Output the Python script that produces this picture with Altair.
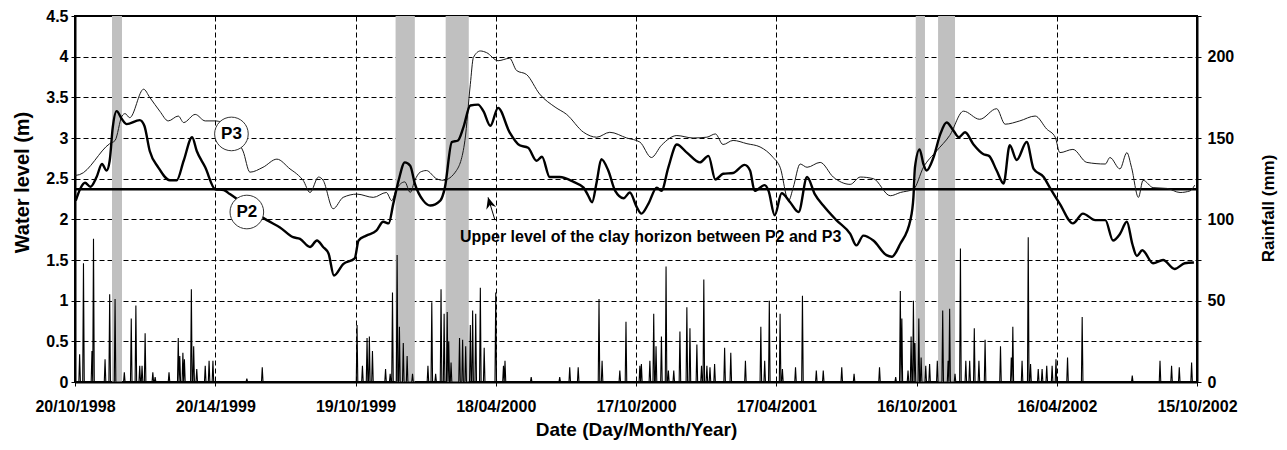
import altair as alt
import pandas as pd

# ---------------- data ----------------
# x positions are days counted from 20/10/1998
x_tick_days = [0, 182, 364, 546, 728, 910, 1092, 1274, 1456]
x_tick_labels = ["20/10/1998", "20/14/1999", "19/10/1999", "18/04/2000", "17/10/2000",
                 "17/04/2001", "16/10/2001", "16/04/2002", "15/10/2002"]
y_left_ticks = [0, 0.5, 1, 1.5, 2, 2.5, 3, 3.5, 4, 4.5]
y_right_ticks = [0, 25, 50, 75, 100, 125, 150, 175, 200, 225]

band_start = [48, 416, 481, 1091, 1120]
band_end = [61, 441, 511, 1103, 1142]

clay_level = [2.37]

p3_day = [0, 6, 45, 52, 61, 65, 71, 89, 97, 110,
          121, 134, 141, 156, 169, 182, 218, 227, 244, 262,
          279, 290, 296, 305, 316, 322, 335, 348, 366, 387,
          404, 411, 417, 428, 435, 441, 448, 456, 469, 478,
          495, 506, 513, 517, 526, 534, 549, 564, 573, 586,
          603, 623, 638, 660, 677, 694, 716, 733, 748, 761,
          781, 802, 820, 831, 841, 854, 872, 889, 906, 915,
          926, 932, 941, 950, 967, 984, 1006, 1019, 1036, 1058,
          1071, 1088, 1101, 1118, 1135, 1153, 1174, 1196, 1207, 1226,
          1246, 1261, 1272, 1278, 1295, 1313, 1337, 1343, 1356, 1365,
          1371, 1380, 1386, 1399, 1417, 1434, 1447, 1453]
p3_level = [2.54, 2.55, 2.93, 2.97, 3.27, 3.30, 3.25, 3.60, 3.50, 3.33,
            3.21, 3.27, 3.19, 3.29, 3.21, 3.21, 2.84, 2.58, 2.64, 2.74,
            2.62, 2.54, 2.48, 2.33, 2.52, 2.48, 2.13, 2.27, 2.31, 2.27,
            2.33, 2.23, 2.37, 2.46, 2.33, 2.48, 2.58, 2.60, 2.50, 2.48,
            2.60, 2.97, 3.66, 3.99, 4.07, 4.05, 3.95, 3.98, 3.83, 3.78,
            3.54, 3.38, 3.29, 3.07, 3.01, 3.07, 3.00, 2.95, 2.76, 2.91,
            3.03, 3.00, 3.01, 3.05, 2.92, 2.97, 2.93, 2.89, 2.76, 2.64,
            2.23, 2.39, 2.68, 2.64, 2.70, 2.52, 2.43, 2.52, 2.50, 2.29,
            2.33, 2.37, 2.64, 2.84, 3.03, 3.33, 3.23, 3.36, 3.17, 3.21,
            3.27, 3.11, 3.01, 2.82, 2.86, 2.70, 2.68, 2.76, 2.62, 2.82,
            2.64, 2.27, 2.48, 2.39, 2.38, 2.33, 2.35, 2.42]

p2_day = [1, 7, 13, 20, 28, 35, 41, 45, 49, 54,
          61, 67, 84, 90, 97, 108, 123, 132, 141, 152,
          158, 169, 182, 193, 201, 249, 266, 283, 292, 305,
          314, 322, 329, 336, 348, 363, 368, 378, 391, 400,
          407, 413, 420, 428, 435, 441, 452, 461, 474, 480,
          489, 497, 504, 513, 523, 530, 539, 549, 564, 577,
          588, 599, 606, 616, 629, 647, 660, 666, 671, 677,
          683, 692, 701, 712, 720, 729, 735, 744, 755, 761,
          770, 781, 794, 811, 822, 831, 841, 854, 869, 876,
          882, 895, 900, 908, 917, 928, 939, 950, 960, 971,
          988, 1006, 1014, 1023, 1036, 1053, 1060, 1071, 1084, 1088,
          1090, 1096, 1101, 1105, 1114, 1123, 1131, 1140, 1147, 1155,
          1166, 1179, 1186, 1196, 1205, 1213, 1222, 1235, 1244, 1257,
          1265, 1278, 1295, 1308, 1324, 1337, 1347, 1356, 1365, 1372,
          1378, 1385, 1399, 1412, 1427, 1440, 1452]
p2_level = [2.23, 2.38, 2.45, 2.40, 2.52, 2.68, 2.60, 2.72, 3.13, 3.33,
            3.23, 3.17, 3.22, 3.15, 2.84, 2.64, 2.48, 2.48, 2.72, 3.01,
            2.84, 2.64, 2.37, 2.36, 2.31, 1.99, 1.90, 1.78, 1.76, 1.66,
            1.74, 1.66, 1.58, 1.31, 1.45, 1.52, 1.74, 1.80, 1.86, 1.97,
            1.95, 2.19, 2.48, 2.70, 2.66, 2.44, 2.23, 2.17, 2.23, 2.39,
            2.95, 2.97, 3.13, 3.40, 3.41, 3.33, 3.15, 3.37, 3.07, 2.91,
            2.88, 2.72, 2.77, 2.52, 2.52, 2.46, 2.39, 2.29, 2.21, 2.46,
            2.74, 2.60, 2.35, 2.26, 2.33, 2.15, 2.07, 2.19, 2.39, 2.35,
            2.64, 2.92, 2.82, 2.70, 2.78, 2.49, 2.56, 2.57, 2.67, 2.60,
            2.35, 2.42, 2.35, 2.05, 2.32, 2.21, 2.09, 2.52, 2.31, 2.17,
            1.99, 1.82, 1.68, 1.80, 1.74, 1.56, 1.54, 1.70, 1.99, 2.27,
            2.64, 2.86, 2.68, 2.60, 2.76, 3.05, 3.19, 3.09, 3.01, 3.07,
            2.92, 2.80, 2.78, 2.60, 2.44, 2.91, 2.73, 2.95, 2.62, 2.52,
            2.39, 2.19, 1.95, 2.07, 1.99, 1.99, 1.74, 1.82, 1.97, 1.70,
            1.55, 1.62, 1.46, 1.50, 1.39, 1.46, 1.47]

rain_day = [6, 11, 22, 24, 39, 45, 52, 64, 73, 79,
            84, 87, 91, 101, 104, 122, 134, 136, 140, 142,
            151, 154, 158, 169, 174, 179, 223, 243, 366, 373,
            379, 382, 386, 403, 409, 412, 418, 421, 426, 431,
            438, 458, 463, 468, 475, 479, 483, 485, 488, 499,
            503, 507, 513, 516, 520, 526, 531, 546, 556, 558,
            592, 629, 642, 653, 680, 684, 707, 715, 733, 735,
            746, 751, 754, 761, 767, 770, 777, 785, 794, 798,
            807, 813, 816, 820, 824, 830, 843, 851, 870, 890,
            895, 901, 915, 918, 935, 944, 962, 971, 995, 1011,
            1044, 1065, 1071, 1073, 1081, 1085, 1088, 1090, 1095, 1098,
            1104, 1109, 1119, 1126, 1133, 1135, 1142, 1149, 1156, 1161,
            1167, 1173, 1181, 1201, 1215, 1217, 1229, 1237, 1240, 1250,
            1255, 1261, 1268, 1273, 1288, 1307, 1372, 1408, 1423, 1433,
            1449]
rain_mm = [17, 73, 19, 88, 14, 54, 51, 6, 39, 47,
           10, 10, 30, 6, 3, 6, 27, 16, 18, 14,
           57, 22, 8, 10, 13, 13, 2, 9, 35, 10,
           27, 28, 19, 8, 5, 55, 78, 34, 24, 16,
           5, 10, 49, 5, 57, 42, 43, 25, 12, 27,
           26, 22, 35, 44, 42, 58, 21, 55, 10, 13,
           3, 3, 9, 9, 51, 13, 7, 37, 10, 11,
           13, 42, 22, 28, 71, 7, 7, 31, 46, 33,
           23, 10, 63, 10, 9, 11, 21, 18, 13, 34,
           13, 50, 42, 8, 9, 53, 7, 7, 9, 5,
           9, 3, 56, 39, 7, 28, 50, 24, 39, 15,
           10, 11, 13, 44, 13, 45, 5, 82, 13, 13,
           33, 13, 26, 22, 15, 34, 13, 89, 11, 8,
           8, 10, 10, 14, 15, 40, 4, 13, 10, 9,
           12]

label_text = ["P3", "P2"]
label_day = [203, 223]
label_level = [3.05, 2.09]

note_text = ["Upper level of the clay horizon between P2 and P3"]
note_day = [747]
note_level = [1.78]

arrow_from_day = [545]
arrow_from_level = [1.99]
arrow_to_day = [536]
arrow_to_level = [2.27]

# ---------------- tables ----------------
bands_df = pd.DataFrame({"start": band_start, "end": band_end})
clay_df = pd.DataFrame({"level": clay_level})
p3_df = pd.DataFrame({"day": p3_day, "level": p3_level})
p2_df = pd.DataFrame({"day": p2_day, "level": p2_level})
rain_lookup = dict(zip(rain_day, rain_mm))
all_days = list(range(x_tick_days[0], x_tick_days[-1] + 1))
rain_df = pd.DataFrame({"day": all_days, "mm": [rain_lookup.get(d, 0) for d in all_days]})
labels_df = pd.DataFrame({"day": label_day, "level": label_level, "text": label_text})
note_df = pd.DataFrame({"day": note_day, "level": note_level, "text": note_text})
arrow_df = pd.DataFrame({"day": arrow_from_day, "level": arrow_from_level,
                         "day2": arrow_to_day, "level2": arrow_to_level})

FONT = "Liberation Sans"
W, H = 1122, 366

label_expr = "[" + ",".join("'%s'" % t for t in x_tick_labels) + "][round(datum.value/%d)]" % x_tick_days[1]

x_scale = alt.Scale(domain=[x_tick_days[0], x_tick_days[-1]], nice=False, zero=False)
x_axis = alt.Axis(values=x_tick_days, labelExpr=label_expr, title="Date (Day/Month/Year)",
                  grid=True, gridDash=[5, 3], gridColor="black", gridOpacity=1, gridWidth=1,
                  labelFlush=False, labelOverlap=False, labelFontSize=16, labelPadding=12,
                  tickSize=4, tickColor="black", domainColor="black", domainWidth=2,
                  titleFontSize=19, titleY=47, titleBaseline="middle")

y_scale = alt.Scale(domain=[y_left_ticks[0], y_left_ticks[-1]], nice=False, zero=False)
y_axis = alt.Axis(values=y_left_ticks, format="~g", title="Water level (m)",
                  grid=True, gridDash=[5, 3], gridColor="black", gridOpacity=1, gridWidth=1,
                  labelFontSize=16, labelPadding=3, tickSize=4, tickColor="black",
                  domainColor="black", domainWidth=2,
                  titleFontSize=20, titleX=-53, titleY=166, titleBaseline="middle")

r_scale = alt.Scale(domain=[y_right_ticks[0], y_right_ticks[-1]], nice=False, zero=False)
r_axis = alt.Axis(orient="right", values=y_right_ticks,
                  labelExpr="datum.value % 50 === 0 ? datum.label : ''",
                  title="Rainfall (mm)", grid=False, labelFontSize=16, labelPadding=6,
                  tickSize=4, tickColor="black", domainColor="black", domainWidth=2,
                  titleFontSize=17, titleAngle=270, titleX=71, titleY=192, titleBaseline="middle")

X = alt.X("day:Q", scale=x_scale, axis=x_axis)
Y = alt.Y("level:Q", scale=y_scale, axis=y_axis)

bands = alt.Chart(bands_df).mark_rect(color="#c0c0c0").encode(
    x=alt.X("start:Q", scale=x_scale, axis=x_axis), x2="end:Q")

rain = alt.Chart(rain_df).mark_line(color="black", strokeWidth=1.1).encode(
    x=X, y=alt.Y("mm:Q", scale=r_scale, axis=r_axis))

clay = alt.Chart(clay_df).mark_rule(color="black", strokeWidth=2.5).encode(y=Y)

p3 = alt.Chart(p3_df).mark_line(color="#1a1a1a", strokeWidth=1, interpolate="monotone").encode(x=X, y=Y)
p2 = alt.Chart(p2_df).mark_line(color="black", strokeWidth=2.4, interpolate="monotone").encode(x=X, y=Y)

circles = alt.Chart(labels_df).mark_point(shape="circle", size=1130, filled=True, fill="white",
                                          stroke="#333333", strokeWidth=1, opacity=1).encode(x=X, y=Y)
circle_text = alt.Chart(labels_df).mark_text(font=FONT, fontSize=17, fontWeight="bold",
                                             color="black", baseline="middle").encode(x=X, y=Y, text="text:N")

note = alt.Chart(note_df).mark_text(font=FONT, fontSize=16, fontWeight="bold", color="black",
                                    align="center", baseline="middle").encode(x=X, y=Y, text="text:N")

arrow_line = alt.Chart(arrow_df).mark_rule(color="black", strokeWidth=1).encode(
    x=X, y=Y, x2="day2:Q", y2="level2:Q")
arrow_head = alt.Chart(arrow_df).mark_point(shape="M0,0L0.8,1.8L0,1.2L-0.8,1.8Z", size=160,
                                            filled=True, color="black", opacity=1, angle=344).encode(
    x=alt.X("day2:Q", scale=x_scale, axis=x_axis), y=alt.Y("level2:Q", scale=y_scale, axis=y_axis))

left = alt.layer(clay, p3, p2, arrow_line, arrow_head, circles, circle_text, note)

chart = alt.layer(bands, rain, left).resolve_scale(y="independent").properties(
    width=W, height=H,
    autosize=alt.AutoSizeParams(type="none"),
    padding={"left": 67, "top": 8, "right": 82, "bottom": 62},
).configure_view(stroke="black", strokeWidth=2).configure_axis(
    labelFont=FONT, titleFont=FONT, labelFontWeight="bold", titleFontWeight="bold",
    labelColor="black", titleColor="black")

chart.save("out.html", embed_options={"renderer": "svg", "actions": False})
